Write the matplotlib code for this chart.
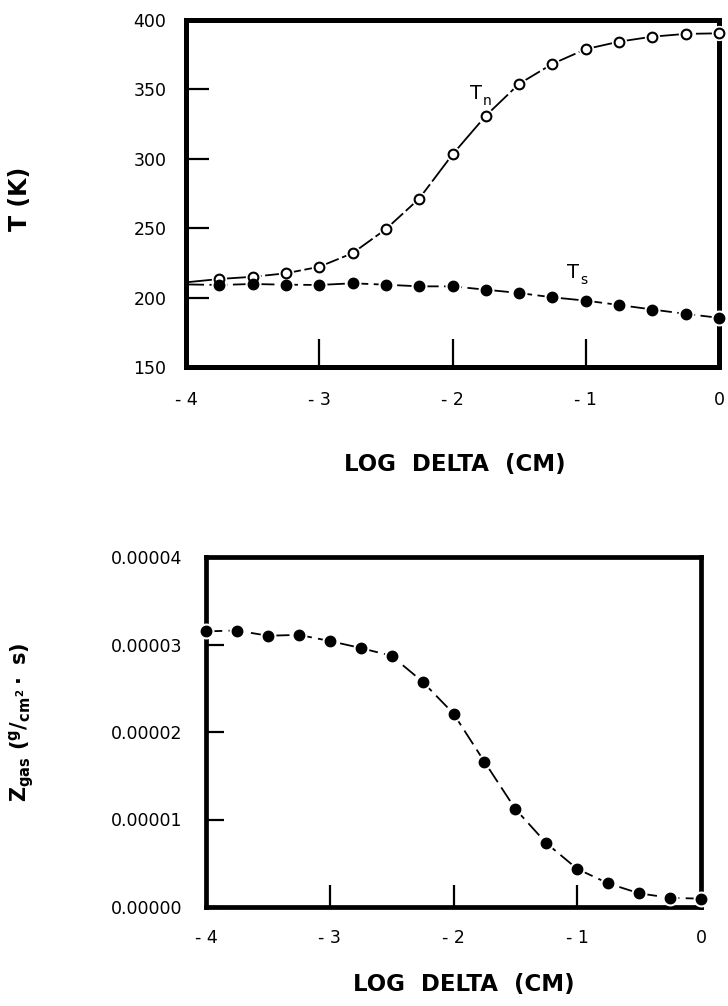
import matplotlib
matplotlib.use("Agg")
import matplotlib.pyplot as plt

# ---------------- data ----------------
# top panel: temperatures vs log delta
log_delta_top = [-4.0, -3.75, -3.5, -3.25, -3.0, -2.75, -2.5, -2.25, -2.0,
                 -1.75, -1.5, -1.25, -1.0, -0.75, -0.5, -0.25, 0.0]
T_n = [211.0, 213.4, 215.0, 217.5, 222.2, 232.0, 249.3, 271.3, 303.1,
       331.0, 354.0, 368.4, 379.0, 384.4, 388.0, 390.0, 390.4]
T_s = [209.5, 209.1, 209.8, 209.3, 209.1, 210.3, 209.3, 208.1, 208.1,
       205.7, 203.3, 200.2, 197.8, 194.7, 191.4, 188.3, 185.4]

# bottom panel: gas flux vs log delta
log_delta_bot = [-4.0, -3.75, -3.5, -3.25, -3.0, -2.75, -2.5, -2.25, -2.0,
                 -1.75, -1.5, -1.25, -1.0, -0.75, -0.5, -0.25, 0.0]
Z_gas = [3.15e-5, 3.16e-5, 3.10e-5, 3.11e-5, 3.04e-5, 2.96e-5, 2.87e-5,
         2.575e-5, 2.21e-5, 1.66e-5, 1.12e-5, 0.73e-5, 0.435e-5, 0.27e-5,
         0.156e-5, 0.105e-5, 0.095e-5]

x_ticks = [-4, -3, -2, -1, 0]
x_ticklabels = ["- 4", "- 3", "- 2", "- 1", "0"]
top_yticks = [150, 200, 250, 300, 350, 400]
bot_yticks = [0.0, 1e-5, 2e-5, 3e-5, 4e-5]
bot_yticklabels = ["0.00000", "0.00001", "0.00002", "0.00003", "0.00004"]

# ---------------- figure ----------------
plt.rcParams['font.family'] = ['DejaVu Sans']
plt.rcParams['mathtext.fontset'] = 'custom'
plt.rcParams['mathtext.rm'] = 'DejaVu Sans:bold'
plt.rcParams['mathtext.it'] = 'DejaVu Sans:bold'
plt.rcParams['mathtext.bf'] = 'DejaVu Sans:bold'

W, H = 728, 1006
fig = plt.figure(figsize=(W / 100, H / 100), dpi=100)


def ax_rect(l, t, r, b):
    return [l / W, 1 - b / H, (r - l) / W, (b - t) / H]


def style_axes(ax, xlen, ylen, xpad, ypad, lw):
    for s in ax.spines.values():
        s.set_linewidth(lw)
        s.set_capstyle('projecting')
    ax.tick_params(axis='x', direction='in', length=xlen, width=1.6,
                   pad=xpad, labelsize=12.5, top=False)
    ax.tick_params(axis='y', direction='in', length=ylen, width=1.6,
                   pad=ypad, labelsize=12.5, right=False)


# ---- top panel ----
ax1 = fig.add_axes(ax_rect(186, 20, 719, 367))
ax1.set_xlim(-4, 0)
ax1.set_ylim(150, 400)
ax1.plot(log_delta_top, T_n, color='black', lw=1.3, linestyle=(0, (20, 2)),
         zorder=2, clip_on=False)
ax1.plot(log_delta_top, T_s, color='black', lw=1.3, linestyle=(0, (10, 3)),
         zorder=2, clip_on=False)
# white halos so the line stops short of each marker
ax1.plot(log_delta_top[1:], T_n[1:], 'o', ms=10, color='white', zorder=3, clip_on=False)
ax1.plot(log_delta_top[1:], T_s[1:], 'o', ms=10.5, color='white', zorder=3, clip_on=False)
ax1.plot(log_delta_top[1:], T_n[1:], 'o', ms=7.0, mfc='white', mec='black',
         mew=1.5, zorder=4, clip_on=False)
ax1.plot(log_delta_top[1:], T_s[1:], 'o', ms=7.5, mfc='black', mec='black',
         zorder=4, clip_on=False)
ax1.text(-1.87, 347, 'T', fontsize=14, ha='left', va='center')
ax1.text(-1.77, 342, 'n', fontsize=10, ha='left', va='center')
ax1.text(-1.14, 218, 'T', fontsize=14, ha='left', va='center')
ax1.text(-1.04, 213, 's', fontsize=10, ha='left', va='center')
ax1.set_xticks(x_ticks)
ax1.set_xticklabels(x_ticklabels)
ax1.set_yticks(top_yticks)
style_axes(ax1, 20, 16.5, 17, 14, 3.6)

fig.text(455 / W, 1 - 464 / H, 'LOG  DELTA  (CM)', fontsize=16.5,
         fontweight='bold', ha='center', va='center')
fig.text(20 / W, 1 - 199 / H, 'T (K)', fontsize=17, fontweight='bold',
         rotation=90, ha='center', va='center')

# ---- bottom panel ----
ax2 = fig.add_axes(ax_rect(206, 557, 701, 907))
ax2.set_xlim(-4, 0)
ax2.set_ylim(0, 4e-5)
ax2.plot(log_delta_bot, Z_gas, color='black', lw=1.3, linestyle=(0, (9, 3.5)),
         zorder=2, clip_on=False)
ax2.plot(log_delta_bot, Z_gas, 'o', ms=10.5, color='white', zorder=3, clip_on=False)
ax2.plot(log_delta_bot, Z_gas, 'o', ms=7.5, mfc='black', mec='black',
         zorder=4, clip_on=False)
ax2.set_xticks(x_ticks)
ax2.set_xticklabels(x_ticklabels)
ax2.set_yticks(bot_yticks)
ax2.set_yticklabels(bot_yticklabels)
style_axes(ax2, 16, 13, 16, 17, 3.4)

fig.text(464 / W, 1 - 985 / H, 'LOG  DELTA  (CM)', fontsize=16.5,
         fontweight='bold', ha='center', va='center')
fig.text(22 / W, 1 - 722 / H,
         r'$Z_{gas}\ (^{g}/_{cm^{2}}\cdot\ s)$',
         fontsize=15, rotation=90, ha='center', va='center')

fig.savefig('out.png', dpi=100, facecolor='white')
